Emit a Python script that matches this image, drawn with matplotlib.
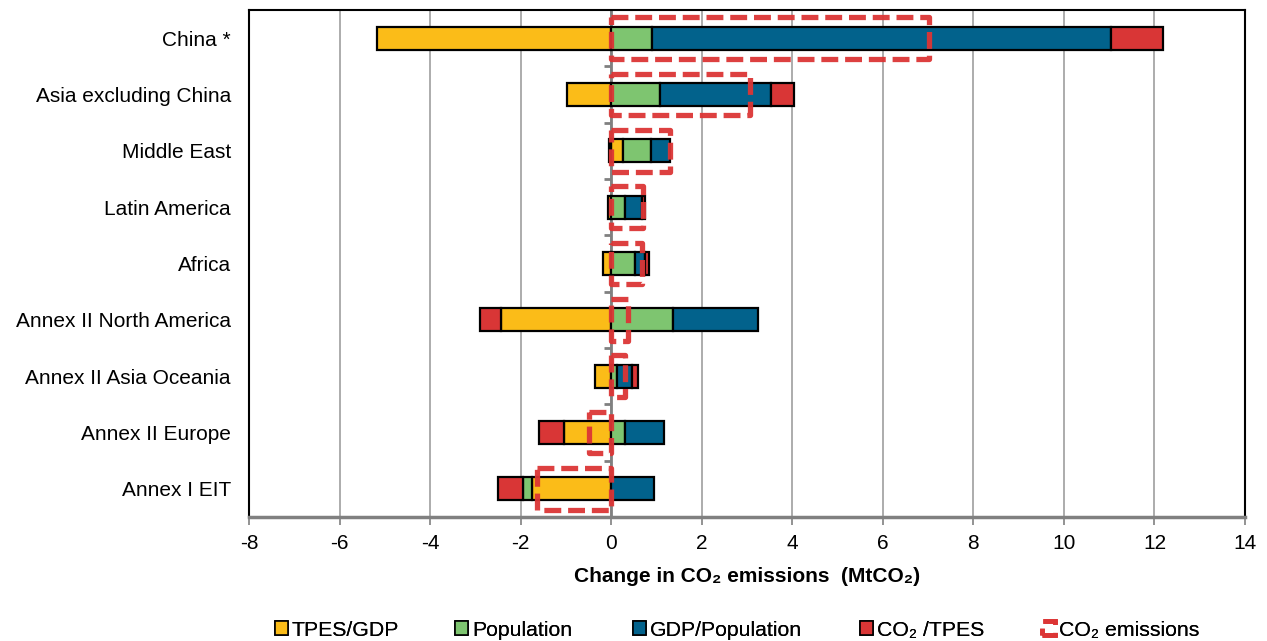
import matplotlib
matplotlib.use("Agg")
import matplotlib.pyplot as plt
from matplotlib.patches import Rectangle, Patch
import numpy as np

plt.rcParams['font.family'] = ['Liberation Sans', 'DejaVu Sans']
plt.rcParams['axes.unicode_minus'] = False

regions = ["China *", "Asia excluding China", "Middle East", "Latin America", "Africa",
           "Annex II North America", "Annex II Asia Oceania", "Annex II Europe", "Annex I EIT"]
tpes_gdp = [-5.17, -0.97, 0.25, -0.07, -0.17, -2.44, -0.35, -1.04, -1.76]
population = [0.90, 1.08, 0.63, 0.30, 0.52, 1.36, 0.12, 0.31, -0.18]
gdp_pop = [10.14, 2.45, 0.42, 0.38, 0.22, 1.89, 0.35, 0.85, 0.95]
co2_tpes = [1.14, 0.50, -0.05, 0.06, 0.09, -0.46, 0.12, -0.56, -0.57]
co2_emissions = [7.02, 3.07, 1.30, 0.70, 0.68, 0.37, 0.30, -0.50, -1.63]

series_names = ["TPES/GDP", "Population", "GDP/Population", "CO\u2082 /TPES"]
series_vals = [tpes_gdp, population, gdp_pop, co2_tpes]
colors = ["#FBBC18", "#7EC570", "#02628C", "#D93636"]
dash_color = "#DC3535"

W, H = 1267, 641
fig = plt.figure(figsize=(W/100, H/100), dpi=100)
ax = fig.add_axes([249/W, 1-517/H, (1245-249)/W, (517-10)/H])

y = np.arange(len(regions))
pos_base = np.zeros(len(regions))
neg_base = np.zeros(len(regions))
bar_h = 0.41
for name, vals, c in zip(series_names, series_vals, colors):
    v = np.array(vals)
    left = np.where(v >= 0, pos_base, neg_base)
    ax.barh(y, v, left=left, height=bar_h, color=c, edgecolor="black", linewidth=1.6, zorder=3)
    pos_base = pos_base + np.where(v >= 0, v, 0)
    neg_base = neg_base + np.where(v < 0, v, 0)

box_h = 0.74
dash_style = (0, (3.2, 1.3))
for yi, val in zip(y, co2_emissions):
    r = Rectangle((min(0, val), yi - box_h/2), abs(val), box_h, fill=False,
                  edgecolor=dash_color, linewidth=3.8, linestyle=dash_style,
                  joinstyle='round', capstyle='butt', alpha=0.95, zorder=5)
    ax.add_patch(r)

ax.set_xlim(-8, 14)
ax.set_ylim(len(regions) - 0.5, -0.5)
ax.set_xticks(np.arange(-8, 15, 2))
ax.set_yticks(y)
ax.set_yticklabels(regions, fontsize=15)
ax.tick_params(axis='y', length=0, pad=13)
ax.tick_params(axis='x', labelsize=15, length=6, color="#808080", width=1.2, pad=6)
ax.grid(axis='x', color="#A6A6A6", linewidth=1.3, zorder=0)
ax.set_axisbelow(True)
for s in ['left', 'top', 'right']:
    ax.spines[s].set_color('black')
    ax.spines[s].set_linewidth(1.5)
ax.spines['bottom'].set_color('#808080')
ax.spines['bottom'].set_linewidth(2.5)

# vertical category axis at zero with tick marks between categories
ax.axvline(0, color="#808080", linewidth=2, zorder=2)
bounds = np.arange(len(regions) + 1) - 0.5
ax.hlines(bounds[1:-1], -0.15, 0, color="#808080", linewidth=2, zorder=2)

ax.set_xlabel("Change in CO\u2082 emissions  (MtCO\u2082)", fontsize=15, fontweight='bold', labelpad=10)

handles = [Patch(facecolor=c, edgecolor='black', linewidth=1.2) for c in colors]
handles.append(Patch(facecolor='none', edgecolor=dash_color, linewidth=3.4, linestyle=(0, (3.3, 1.7))))
labels = series_names + ["CO\u2082 emissions"]
legend_x = [275, 455, 633, 860, 1042]
for h, lab, xp in zip(handles, labels, legend_x):
    leg = fig.legend([h], [lab], loc='center left', bbox_to_anchor=(xp/W, 1-630/H),
                     frameon=False, fontsize=15.3, handlelength=0.6, handleheight=0.6,
                     handletextpad=0.2, borderpad=0, borderaxespad=0)
    fig.add_artist(leg)

fig.savefig("out.png", dpi=100)
